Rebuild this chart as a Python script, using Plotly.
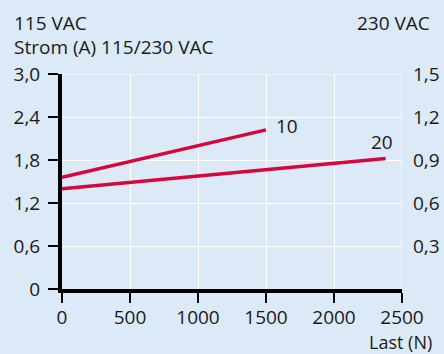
import plotly.graph_objects as go

# Load (N) vs. current (A) for two model sizes
load_10 = [0, 1500]
current_10 = [1.56, 2.22]
load_20 = [0, 2380]
current_20 = [1.40, 1.82]
series_names = ["10", "20"]

# Axis ticks
x_ticks = [0, 500, 1000, 1500, 2000, 2500]
y_ticks = [0, 0.6, 1.2, 1.8, 2.4, 3.0]
y_tick_text = ["0", "0,6", "1,2", "1,8", "2,4", "3,0"]
y2_ticks = [0.3, 0.6, 0.9, 1.2, 1.5]
y2_tick_text = ["0,3", "0,6", "0,9", "1,2", "1,5"]

BG = "#dce9f6"
RED = "#d6063f"
FONT = "Open Sans"
FS = 19

fig = go.Figure()
fig.add_trace(go.Scatter(x=load_10, y=current_10, mode="lines", name=series_names[0],
                         line=dict(color=RED, width=3.5)))
fig.add_trace(go.Scatter(x=load_20, y=current_20, mode="lines", name=series_names[1],
                         line=dict(color=RED, width=3.5)))
# invisible trace to activate the secondary (230 VAC) axis
fig.add_trace(go.Scatter(x=[0], y=[0], yaxis="y2", mode="markers",
                         marker=dict(opacity=0), hoverinfo="skip", showlegend=False))

fig.update_layout(
    width=444, height=354,
    margin=dict(l=62, r=42, t=74, b=65, autoexpand=False),
    paper_bgcolor=BG, plot_bgcolor=BG,
    showlegend=False,
    font=dict(family=FONT, size=FS, color="#1a1a1a"),
    xaxis=dict(range=[0, 2500], tickvals=x_ticks, ticktext=[str(v) for v in x_ticks],
               showgrid=True, gridcolor="white", gridwidth=1,
               showline=True, linecolor="black", linewidth=4,
               ticks="outside", ticklen=10, tickwidth=2, tickcolor="black",
               zeroline=False, automargin=False, ticklabelstandoff=-2),
    yaxis=dict(range=[0, 3.0], tickvals=y_ticks, ticktext=y_tick_text,
               showgrid=True, gridcolor="white", gridwidth=1,
               showline=True, linecolor="black", linewidth=4,
               ticks="outside", ticklen=10, tickwidth=2, tickcolor="black",
               zeroline=False, ticklabelstandoff=4, automargin=False),
    yaxis2=dict(range=[0, 1.5], tickvals=y2_ticks, ticktext=y2_tick_text,
                overlaying="y", side="right", showgrid=False, showline=False,
                zeroline=False, ticks="", ticklabelstandoff=10, automargin=False),
)

# Vertical grid line at the right edge
fig.add_shape(type="line", xref="x", yref="paper", x0=2500, x1=2500, y0=0, y1=1,
              line=dict(color="white", width=1), layer="below")
# Horizontal grid line at the top
fig.add_shape(type="line", xref="paper", yref="y", x0=0, x1=1, y0=3.0, y1=3.0,
              line=dict(color="white", width=1), layer="below")

# Series labels at line ends
fig.add_annotation(x=load_10[-1], y=current_10[-1], text=series_names[0], showarrow=False,
                   xanchor="left", yanchor="middle", xshift=8, yshift=4, font=dict(size=FS))
fig.add_annotation(x=load_20[-1], y=current_20[-1], text=series_names[1], showarrow=False,
                   xanchor="center", yanchor="bottom", xshift=-4, yshift=2, font=dict(size=FS))

# Header / axis titles
fig.add_annotation(xref="paper", yref="paper", x=-62/340, y=1 + 51/215, text="115 VAC",
                   showarrow=False, xanchor="left", yanchor="middle", xshift=12)
fig.add_annotation(xref="paper", yref="paper", x=-62/340, y=1 + 27/215,
                   text="Strom (A) 115/230 VAC",
                   showarrow=False, xanchor="left", yanchor="middle", xshift=12)
fig.add_annotation(xref="paper", yref="paper", x=1, y=1 + 51/215, text="230 VAC",
                   showarrow=False, xanchor="right", yanchor="middle", xshift=30)
fig.add_annotation(xref="paper", yref="paper", x=1, y=-53/215, text="Last (N)",
                   showarrow=False, xanchor="right", yanchor="middle", xshift=32,
                   font=dict(size=18))

fig.write_html("out.html")
